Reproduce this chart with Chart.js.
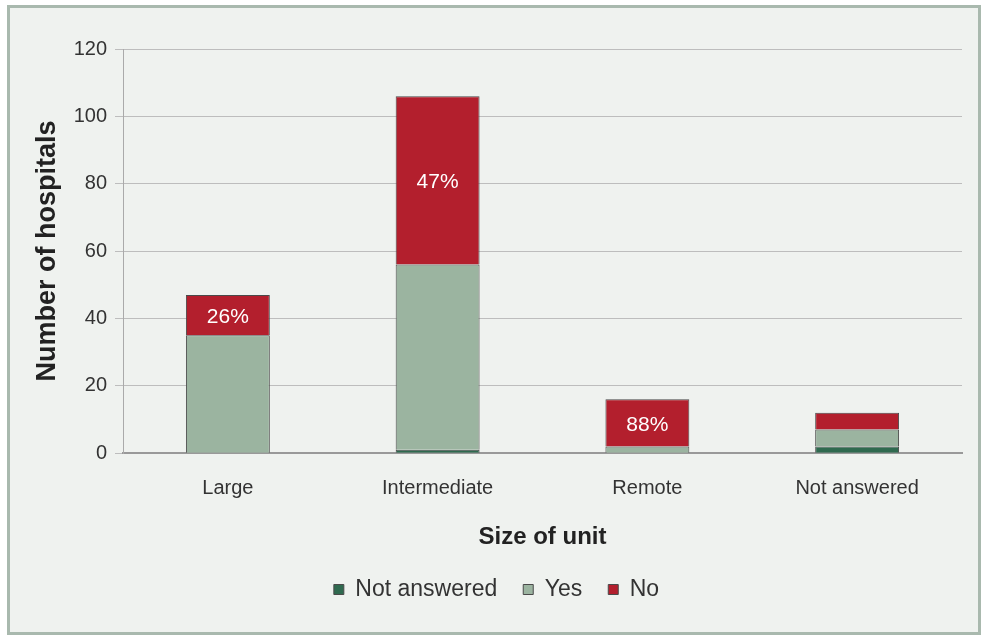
<!DOCTYPE html>
<html>
<head>
<meta charset="utf-8">
<script src="https://cdn.jsdelivr.net/npm/chart.js@4/dist/chart.umd.min.js"></script>
<style>
  html, body { margin: 0; padding: 0; background: #fff; }
  #frame {
    position: absolute; left: 7px; top: 5px; width: 968px; height: 624px;
    border: 3px solid #a9b9ae; background: #eff2ef;
  }
  #wrap { position: absolute; left: 0; top: 0; width: 988px; height: 636px; }
</style>
</head>
<body>
<div id="frame"></div>
<div id="wrap"><canvas id="chart" width="988" height="636"></canvas></div>
<script>
const categories = ['Large', 'Intermediate', 'Remote', 'Not answered'];
const notAnswered = [0, 1, 0, 2];
const yes = [35, 55, 2, 5];
const no = [12, 50, 14, 5];
const noLabels = ['26%', '47%', '88%', ''];
const yTicks = [0, 20, 40, 60, 80, 100, 120];

const font = 'Liberation Sans, Arial, sans-serif';

const percentLabels = {
    id: 'percentLabels',
    afterDatasetsDraw(chart) {
        const ctx = chart.ctx;
        const meta = chart.getDatasetMeta(2);
        ctx.save();
        ctx.fillStyle = '#fff';
        ctx.font = '21px ' + font;
        ctx.textAlign = 'center';
        ctx.textBaseline = 'middle';
        meta.data.forEach((bar, i) => {
            if (!noLabels[i]) return;
            ctx.fillText(noLabels[i], bar.x, (bar.y + bar.base) / 2 + 2);
        });
        ctx.restore();
    }
};

new Chart(document.getElementById('chart'), {
    type: 'bar',
    data: {
        labels: categories,
        datasets: [
            { label: 'Not answered', data: notAnswered, backgroundColor: '#2f6a4f', borderColor: '#4a4a4a', borderWidth: 1 },
            { label: 'Yes', data: yes, backgroundColor: '#9bb4a0', borderColor: '#4a4a4a', borderWidth: 1 },
            { label: 'No', data: no, backgroundColor: '#b31f2d', borderColor: '#4a4a4a', borderWidth: 1 }
        ]
    },
    options: {
        responsive: false,
        animation: false,
        layout: { padding: { left: 31, right: 26, top: 49, bottom: 25 } },
        datasets: { bar: { categoryPercentage: 1, barPercentage: 0.4 } },
        plugins: {
            legend: {
                position: 'bottom',
                labels: {
                    font: { family: font, size: 23 },
                    color: '#333',
                    boxWidth: 10,
                    boxHeight: 10,
                    padding: 26,
                    useBorderRadius: false
                }
            },
            tooltip: { enabled: false }
        },
        scales: {
            x: {
                stacked: true,
                grid: { display: false, drawTicks: false },
                border: { color: '#999', width: 2 },
                ticks: { font: { family: font, size: 20 }, color: '#333', padding: 23 },
                title: {
                    display: true, text: 'Size of unit',
                    font: { family: font, size: 24, weight: 'bold' }, color: '#222',
                    padding: { top: 0, bottom: 0 }
                }
            },
            y: {
                stacked: true,
                min: 0, max: 120,
                afterBuildTicks(scale) { scale.ticks = yTicks.map(v => ({ value: v })); },
                afterFit(scale) { scale.width = 92; },
                grid: { color: '#bdbdbd', lineWidth: 1, tickLength: 8 },
                border: { color: '#aaa', width: 1 },
                ticks: { font: { family: font, size: 20 }, color: '#333', padding: 8 },
                title: {
                    display: true, text: 'Number of hospitals',
                    font: { family: font, size: 27, weight: 'bold' }, color: '#222',
                    padding: { top: 0, bottom: 0 }
                }
            }
        }
    },
    plugins: [percentLabels]
});
</script>
</body>
</html>
